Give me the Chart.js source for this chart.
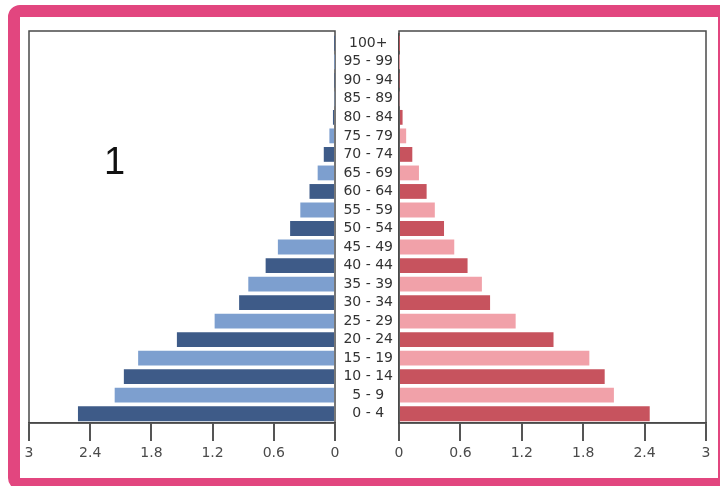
<!DOCTYPE html>
<html lang="en">
<head>
  <meta charset="UTF-8" />
  <title>Population pyramid</title>
  <style>
    html, body { margin: 0; padding: 0; background: #fff; overflow: hidden; }
    body { width: 720px; height: 486px; position: relative; }
    .frame {
      position: absolute; left: 8px; top: 5px; width: 712px; height: 485px;
      box-sizing: border-box; border: 12px solid #e2467f; border-right-width: 2px;
      border-radius: 12px 0 0 12px;
    }
    canvas { position: absolute; }
    #maleChart { left: 20px; top: 17px; }
    #femaleChart { left: 335px; top: 17px; }
    .tag {
      position: absolute; left: 104px; top: 142px;
      font: 38px/1 "Liberation Sans", Arial, sans-serif; color: #111;
    }
  </style>
</head>
<body>
  <div class="frame"></div>
  <canvas id="maleChart" width="320" height="450"></canvas>
  <canvas id="femaleChart" width="380" height="450"></canvas>
  <div class="tag">1</div>

  <script src="https://cdn.jsdelivr.net/npm/chart.js"></script>
  <script>
    // age groups, bottom (0 - 4) to top (100+)
    const AGE_GROUPS = ['0 - 4', '5 - 9', '10 - 14', '15 - 19', '20 - 24', '25 - 29', '30 - 34',
      '35 - 39', '40 - 44', '45 - 49', '50 - 54', '55 - 59', '60 - 64', '65 - 69', '70 - 74',
      '75 - 79', '80 - 84', '85 - 89', '90 - 94', '95 - 99', '100+'];
    const MALE = [2.52, 2.16, 2.07, 1.93, 1.55, 1.18, 0.94, 0.85, 0.68, 0.56, 0.44,
      0.34, 0.25, 0.17, 0.11, 0.055, 0.02, 0.006, 0.005, 0.003, 0.003];
    const FEMALE = [2.45, 2.10, 2.01, 1.86, 1.51, 1.14, 0.89, 0.81, 0.67, 0.54, 0.44,
      0.35, 0.27, 0.195, 0.13, 0.07, 0.035, 0.006, 0.005, 0.002, 0.002];
    const X_TICKS = [0, 0.6, 1.2, 1.8, 2.4, 3];

    const MALE_DARK = '#3e5b88', MALE_LIGHT = '#7d9fcf';
    const FEMALE_DARK = '#c7535e', FEMALE_LIGHT = '#f1a1a9';
    const LINE = '#4a4a4a';
    const FONT = { family: 'DejaVu Sans', size: 14 };

    // box round the plot area (drawn before the bars so they sit on top)
    const frame = {
      id: 'frame',
      beforeDatasetsDraw(chart) {
        const a = chart.chartArea, ctx = chart.ctx;
        ctx.save();
        ctx.strokeStyle = LINE;
        ctx.lineWidth = 1.5;
        ctx.strokeRect(a.left, a.top - 3, a.right - a.left, a.bottom - a.top + 3);
        ctx.restore();
      }
    };

    function xAxis(reverse) {
      return {
        reverse: reverse, min: 0, max: 3,
        afterBuildTicks: s => { s.ticks = X_TICKS.map(v => ({ value: v })); },
        afterFit: s => { s.height = 44; },
        grid: { drawOnChartArea: false, drawTicks: true, tickLength: 18, color: '#555', lineWidth: 2 },
        border: { display: true, color: LINE, width: 1.5 },
        ticks: { padding: 4, color: '#4a4a4a', font: FONT, maxRotation: 0, autoSkip: false,
          callback: v => String(v) }
      };
    }

    function dataset(values, dark, light) {
      return {
        data: values,
        backgroundColor: values.map((_, i) => i % 2 ? light : dark),
        barPercentage: 0.8,
        categoryPercentage: 1
      };
    }

    // male side
    new Chart(document.getElementById('maleChart'), {
      type: 'bar',
      data: { labels: AGE_GROUPS, datasets: [dataset(MALE, MALE_DARK, MALE_LIGHT)] },
      options: {
        indexAxis: 'y', responsive: false, animation: false,
        layout: { padding: { left: 9, right: 5, top: 17, bottom: 0 } },
        plugins: { legend: { display: false }, tooltip: { enabled: false } },
        scales: {
          x: xAxis(true),
          y: { reverse: true, display: false, offset: true }
        }
      },
      plugins: [frame]
    });

    // female side, age labels sit in its left axis
    new Chart(document.getElementById('femaleChart'), {
      type: 'bar',
      data: { labels: AGE_GROUPS, datasets: [dataset(FEMALE, FEMALE_DARK, FEMALE_LIGHT)] },
      options: {
        indexAxis: 'y', responsive: false, animation: false,
        layout: { padding: { left: 0, right: 9, top: 17, bottom: 0 } },
        plugins: { legend: { display: false }, tooltip: { enabled: false } },
        scales: {
          x: xAxis(false),
          y: {
            reverse: true, position: 'left', offset: true,
            afterFit: s => { s.width = 64; },
            grid: { drawOnChartArea: false, drawTicks: false },
            border: { display: true, color: LINE, width: 1.5 },
            ticks: { crossAlign: 'center', padding: 6, color: '#333', font: FONT, autoSkip: false }
          }
        }
      },
      plugins: [frame]
    });
  </script>
</body>
</html>
